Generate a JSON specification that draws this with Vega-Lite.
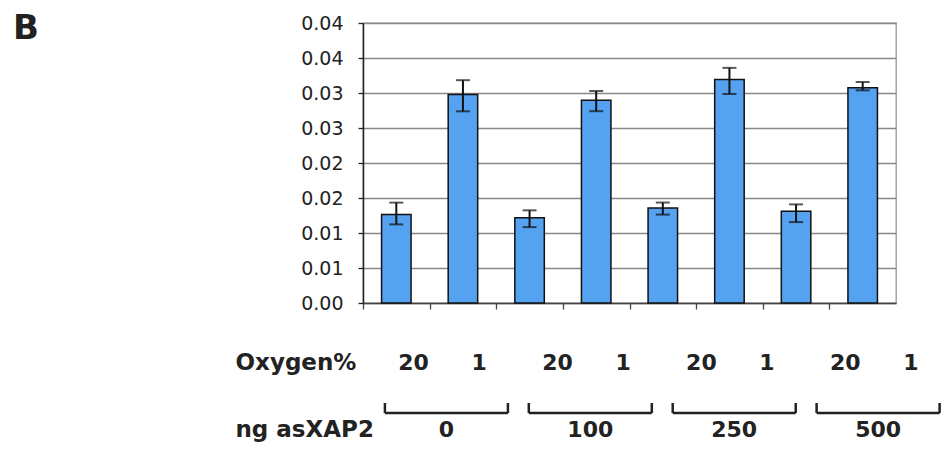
{
  "$schema": "https://vega.github.io/schema/vega-lite/v6.json",
  "autosize": {"type": "none"},
  "padding": {"left": 363, "top": 23, "right": 584, "bottom": 427},
  "background": "white",
  "config": {"font": "DejaVu Sans"},
  "bounds": "flush",
  "spacing": 33,
  "data": {
    "values": [
      {"cond": "0|20", "ng": "0", "oxy": "20", "value": 0.01266, "lo": 0.01123, "hi": 0.01434},
      {"cond": "0|1", "ng": "0", "oxy": "1", "value": 0.02978, "lo": 0.02738, "hi": 0.03183},
      {"cond": "100|20", "ng": "100", "oxy": "20", "value": 0.01219, "lo": 0.01084, "hi": 0.01324},
      {"cond": "100|1", "ng": "100", "oxy": "1", "value": 0.02895, "lo": 0.0274, "hi": 0.03028},
      {"cond": "250|20", "ng": "250", "oxy": "20", "value": 0.01358, "lo": 0.01263, "hi": 0.01435},
      {"cond": "250|1", "ng": "250", "oxy": "1", "value": 0.03193, "lo": 0.02986, "hi": 0.03359},
      {"cond": "500|20", "ng": "500", "oxy": "20", "value": 0.01309, "lo": 0.01156, "hi": 0.01409},
      {"cond": "500|1", "ng": "500", "oxy": "1", "value": 0.03075, "lo": 0.03038, "hi": 0.03157}
    ]
  },
  "vconcat": [
    {
      "width": 533,
      "height": 280,
      "view": {"stroke": "#999", "strokeWidth": 1.3},
      "title": {"text": "B", "anchor": "start", "frame": "group", "fontSize": 34, "fontWeight": "bold", "color": "#222", "dx": -350, "dy": 59, "baseline": "alphabetic", "offset": 0},
      "encoding": {
        "x": {
          "field": "cond", "type": "nominal", "sort": null,
          "scale": {"type": "band", "paddingInner": 0.557, "paddingOuter": 0.2785},
          "axis": {"title": null, "labels": false, "tickOffset": -33.3, "tickSize": 6, "tickColor": "#444", "tickWidth": 1.3, "domainColor": "#444", "domainWidth": 1.5, "grid": false}
        }
      },
      "layer": [
        {
          "mark": {"type": "bar", "color": "#55a2f0", "stroke": "#111", "strokeWidth": 1.5, "width": 29.5},
          "encoding": {
            "y": {
              "field": "value", "type": "quantitative",
              "scale": {"domain": [0, 0.04], "nice": false},
              "axis": {"title": null, "values": [0, 0.005, 0.01, 0.015, 0.02, 0.025, 0.03, 0.035, 0.04], "labelExpr": "format(round(datum.value*100+0.000001)/100, '.2f')", "grid": true, "gridColor": "#888", "gridWidth": 1.3, "domainColor": "#222", "domainWidth": 1.5, "tickColor": "#222", "tickSize": 5, "tickWidth": 1.3, "labelFontSize": 19, "labelColor": "#222", "labelPadding": 15}
            }
          }
        },
        {
          "mark": {"type": "rule", "color": "#111", "strokeWidth": 2},
          "encoding": {
            "y": {"field": "lo", "type": "quantitative", "axis": {"title": null, "values": [0, 0.005, 0.01, 0.015, 0.02, 0.025, 0.03, 0.035, 0.04], "labelExpr": "format(round(datum.value*100+0.000001)/100, '.2f')", "grid": true, "gridColor": "#888", "gridWidth": 1.3, "domainColor": "#222", "domainWidth": 1.5, "tickColor": "#222", "tickSize": 5, "tickWidth": 1.3, "labelFontSize": 19, "labelColor": "#222", "labelPadding": 15}},
            "y2": {"field": "hi"}
          }
        },
        {
          "mark": {"type": "tick", "color": "#111", "thickness": 2, "size": 14},
          "encoding": {"y": {"field": "lo", "type": "quantitative", "axis": {"title": null, "values": [0, 0.005, 0.01, 0.015, 0.02, 0.025, 0.03, 0.035, 0.04], "labelExpr": "format(round(datum.value*100+0.000001)/100, '.2f')", "grid": true, "gridColor": "#888", "gridWidth": 1.3, "domainColor": "#222", "domainWidth": 1.5, "tickColor": "#222", "tickSize": 5, "tickWidth": 1.3, "labelFontSize": 19, "labelColor": "#222", "labelPadding": 15}}}
        },
        {
          "mark": {"type": "tick", "color": "#111", "thickness": 2, "size": 14},
          "encoding": {"y": {"field": "hi", "type": "quantitative", "axis": {"title": null, "values": [0, 0.005, 0.01, 0.015, 0.02, 0.025, 0.03, 0.035, 0.04], "labelExpr": "format(round(datum.value*100+0.000001)/100, '.2f')", "grid": true, "gridColor": "#888", "gridWidth": 1.3, "domainColor": "#222", "domainWidth": 1.5, "tickColor": "#222", "tickSize": 5, "tickWidth": 1.3, "labelFontSize": 19, "labelColor": "#222", "labelPadding": 15}}}
        }
      ]
    },
    {
      "width": 580,
      "height": 121,
      "view": {"stroke": null},
      "encoding": {
        "x": {
          "field": "ng", "type": "nominal", "sort": ["0", "100", "250", "500"],
          "scale": {"type": "band", "paddingInner": 0.1452, "paddingOuter": 0.0879, "align": 0.866},
          "axis": null
        }
      },
      "layer": [
        {
          "mark": {"type": "text", "fontSize": 22, "fontWeight": "bold", "color": "#222", "baseline": "middle"},
          "encoding": {
            "xOffset": {"field": "oxy", "type": "nominal", "sort": ["20", "1"], "scale": {"type": "point", "padding": 0.4375}},
            "y": {
              "datum": "Oxygen%", "type": "nominal",
              "scale": {"domain": ["Oxygen%", "ng asXAP2"], "paddingInner": 0.194, "paddingOuter": 0},
              "axis": {"title": null, "domain": false, "ticks": false, "labelAlign": "left", "labelPadding": 128, "labelFontSize": 23, "labelFontWeight": "bold", "labelColor": "#222", "labelBaseline": "middle"}
            },
            "text": {"field": "oxy"}
          }
        },
        {
          "transform": [{"filter": "datum.oxy == '20'"}],
          "mark": {"type": "text", "fontSize": 22, "fontWeight": "bold", "color": "#222", "baseline": "middle"},
          "encoding": {
            "y": {"datum": "ng asXAP2", "type": "nominal"},
            "text": {"field": "ng"}
          }
        },
        {
          "transform": [{"filter": "datum.oxy == '20'"}],
          "mark": {"type": "rule", "color": "#222", "strokeWidth": 2.5},
          "encoding": {
            "x": {"field": "ng", "type": "nominal", "sort": ["0", "100", "250", "500"], "bandPosition": 0},
            "x2": {"field": "ng", "bandPosition": 1},
            "y": {"datum": "ng asXAP2", "type": "nominal", "bandPosition": 0.185}
          }
        },
        {
          "transform": [{"filter": "datum.oxy == '20'"}],
          "mark": {"type": "rule", "color": "#222", "strokeWidth": 2.5},
          "encoding": {
            "x": {"field": "ng", "type": "nominal", "sort": ["0", "100", "250", "500"], "bandPosition": 0},
            "y": {"datum": "ng asXAP2", "type": "nominal", "bandPosition": 0},
            "y2": {"datum": "ng asXAP2", "bandPosition": 0.185}
          }
        },
        {
          "transform": [{"filter": "datum.oxy == '20'"}],
          "mark": {"type": "rule", "color": "#222", "strokeWidth": 2.5},
          "encoding": {
            "x": {"field": "ng", "type": "nominal", "sort": ["0", "100", "250", "500"], "bandPosition": 1},
            "y": {"datum": "ng asXAP2", "type": "nominal", "bandPosition": 0},
            "y2": {"datum": "ng asXAP2", "bandPosition": 0.185}
          }
        }
      ]
    }
  ]
}
